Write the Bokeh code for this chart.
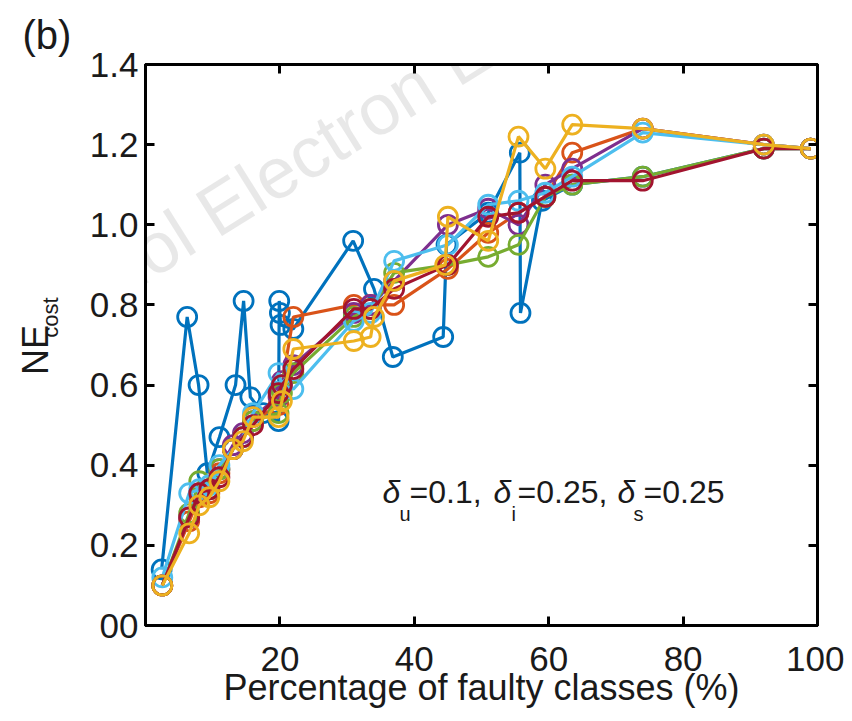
import math
from bokeh.plotting import figure
from bokeh.models import LinearAxis, Label, FixedTicker, Range1d, CustomJSTickFormatter
from bokeh.embed import file_html
from bokeh.resources import INLINE

# ---------------- data ----------------
x_ticks = [0, 20, 40, 60, 80, 100]
y_ticks = [0, 0.2, 0.4, 0.6, 0.8, 1.0, 1.2, 1.4]
y_tick_labels = ["00", "0.2", "0.4", "0.6", "0.8", "1.0", "1.2", "1.4"]

blue_x = [2.4, 6.2, 7.9, 9.2, 11.0, 13.4, 14.6, 15.6, 17.5, 19.8, 19.9, 20.0, 20.1, 22.0,
          30.9, 34.0, 36.8, 44.3, 44.8, 51.0, 55.7, 55.8, 59.0, 63.5, 74.0, 92.0, 99.0]
blue_y = [0.14, 0.77, 0.60, 0.38, 0.47, 0.60, 0.81, 0.57, 0.53, 0.51, 0.81, 0.78, 0.75, 0.74,
          0.96, 0.84, 0.67, 0.72, 0.95, 1.03, 1.18, 0.78, 1.06, 1.10, 1.12, 1.19, 1.19]

common_x = [2.5, 6.5, 8.0, 9.5, 11.0, 13.0, 14.5, 16.0, 19.8, 20.3, 22.0,
            31.0, 33.5, 37.0, 45.0, 51.0, 55.5, 59.5, 63.5, 74.0, 92.0, 99.0]
orange_y = [0.10, 0.26, 0.32, 0.33, 0.38, 0.44, 0.47, 0.51, 0.55, 0.60, 0.77,
            0.80, 0.80, 0.80, 0.89, 0.98, 1.03, 1.07, 1.18, 1.24, 1.20, 1.19]
purple_y = [0.10, 0.27, 0.33, 0.34, 0.39, 0.45, 0.48, 0.52, 0.57, 0.61, 0.65,
            0.78, 0.80, 0.86, 1.00, 1.04, 1.00, 1.10, 1.14, 1.24, 1.20, 1.19]
green_y = [0.10, 0.28, 0.36, 0.34, 0.39, 0.44, 0.47, 0.51, 0.53, 0.58, 0.63,
           0.77, 0.79, 0.88, 0.90, 0.92, 0.95, 1.07, 1.10, 1.12, 1.19, 1.19]
cyan_y = [0.12, 0.33, 0.34, 0.35, 0.40, 0.44, 0.47, 0.53, 0.63, 0.60, 0.59,
          0.76, 0.78, 0.91, 0.95, 1.05, 1.06, 1.08, 1.12, 1.23, 1.20, 1.19]
darkred_y = [0.10, 0.27, 0.33, 0.34, 0.37, 0.44, 0.47, 0.50, 0.58, 0.60, 0.64,
             0.79, 0.79, 0.84, 0.90, 1.02, 1.03, 1.07, 1.11, 1.11, 1.19, 1.19]

yellow_x = [2.5, 6.5, 8.0, 9.5, 11.0, 13.0, 14.5, 16.0, 19.8, 20.3, 22.0,
            31.0, 33.5, 34.0, 37.0, 44.6, 45.0, 51.0, 55.5, 59.5, 63.5, 74.0, 92.0, 99.0]
yellow_y = [0.10, 0.23, 0.30, 0.32, 0.36, 0.44, 0.46, 0.52, 0.52, 0.56, 0.69,
            0.71, 0.72, 0.77, 0.86, 0.90, 1.02, 0.96, 1.22, 1.14, 1.25, 1.24, 1.20, 1.19]

# ---------------- figure ----------------
FONT = "Liberation Sans"
TXT = "#1a1a1a"
p = figure(width=844, height=713, x_range=Range1d(0, 100), y_range=Range1d(0, 1.4),
           output_backend="svg", toolbar_location=None, title="(b)",
           min_border_left=145, min_border_right=27, min_border_top=64, min_border_bottom=88)
p.xgrid.visible = False
p.ygrid.visible = False
p.outline_line_color = "black"
p.outline_line_width = 3
p.outline_line_alpha = 1
p.background_fill_color = "white"
p.border_fill_color = "white"

p.title.align = "left"
p.title.offset = -123
p.title.standoff = 16
p.title.text_font = FONT
p.title.text_font_size = "40px"
p.title.text_font_style = "normal"
p.title.text_color = TXT


def px_x(px):
    return (px - 145) / 6.72


def px_y(py):
    return (625 - py) / 400.7


# watermark (inside the frame only)
p.add_layout(Label(x=px_x(-24), y=px_y(360), text="Technol Electron Eng", angle=0.56,
                   text_font=FONT, text_font_size="72px", text_color="#d6d6d6", text_alpha=0.55,
                   text_align="left", text_baseline="alphabetic", level="underlay"))

series = [
    (blue_x, blue_y, "#0072BD"),
    (common_x, orange_y, "#D95319"),
    (common_x, purple_y, "#7E2F8E"),
    (common_x, green_y, "#77AC30"),
    (common_x, cyan_y, "#4DBEEE"),
    (common_x, darkred_y, "#A2142F"),
    (yellow_x, yellow_y, "#EDB120"),
]
for xs, ys, c in series:
    p.line(xs, ys, line_color=c, line_width=3.2)
    p.scatter(xs, ys, marker="circle", size=19, fill_color=None, line_color=c, line_width=2.8)

# axes
xax = p.xaxis[0]
yax = p.yaxis[0]
xax.ticker = FixedTicker(ticks=x_ticks)
xax.major_label_overrides = {0: ""}
yax.ticker = FixedTicker(ticks=y_ticks)
yax.major_label_overrides = dict(zip(y_ticks, y_tick_labels))
for ax in (xax, yax):
    ax.axis_line_width = 3
    ax.axis_line_color = "black"
    ax.major_tick_in = 9
    ax.major_tick_out = 0
    ax.major_tick_line_width = 3
    ax.minor_tick_line_color = None
    ax.major_label_text_font = FONT
    ax.major_label_text_font_size = "35px"
    ax.major_label_text_color = TXT
    ax.axis_label_text_font = FONT
    ax.axis_label_text_font_style = "normal"
    ax.axis_label_text_color = TXT
xax.major_label_standoff = 21
yax.major_label_standoff = 7

xax.axis_label = "Percentage of faulty classes (%)"
xax.axis_label_text_font_size = "36px"
xax.axis_label_standoff = -7

NB = "\u00a0"
yax.axis_label = NB * 9 + "cost"
yax.axis_label_text_font_size = "22px"
yax.axis_label_standoff = 24

empty = CustomJSTickFormatter(code="return ''")
ne_axis = LinearAxis(ticker=FixedTicker(ticks=[]), formatter=empty,
                     axis_line_color=None, major_tick_line_color=None, minor_tick_line_color=None,
                     major_label_standoff=0, axis_label="NE" + NB,
                     axis_label_text_font=FONT, axis_label_text_font_size="36px",
                     axis_label_text_font_style="normal", axis_label_text_color=TXT,
                     axis_label_standoff=-21)
p.add_layout(ne_axis, "left")

top = LinearAxis(ticker=FixedTicker(ticks=x_ticks), formatter=empty)
right = LinearAxis(ticker=FixedTicker(ticks=y_ticks), formatter=empty)
for ax in (top, right):
    ax.axis_line_width = 3
    ax.axis_line_color = "black"
    ax.major_tick_in = 9
    ax.major_tick_out = 0
    ax.major_tick_line_width = 3
    ax.minor_tick_line_color = None
    ax.major_label_standoff = 0
p.add_layout(top, "above")
p.add_layout(right, "right")

# parameter annotation (inside the frame)
parts = [
    (382, 492, "δ", "32px", "italic"),
    (399, 514, "u", "20px", "normal"),
    (409, 492, "=0.1,", "32px", "normal"),
    (493, 492, "δ", "32px", "italic"),
    (511, 514, "i", "20px", "normal"),
    (517, 492, "=0.25,", "32px", "normal"),
    (617, 492, "δ", "32px", "italic"),
    (633, 514, "s", "20px", "normal"),
    (643, 492, "=0.25", "32px", "normal"),
]
for px, py, t, fs, st in parts:
    p.add_layout(Label(x=px_x(px), y=px_y(py), text=t, text_font=FONT, text_font_size=fs,
                       text_font_style=st, text_color=TXT, text_align="left",
                       text_baseline="alphabetic"))

open("out.html", "w").write(file_html(p, INLINE))
